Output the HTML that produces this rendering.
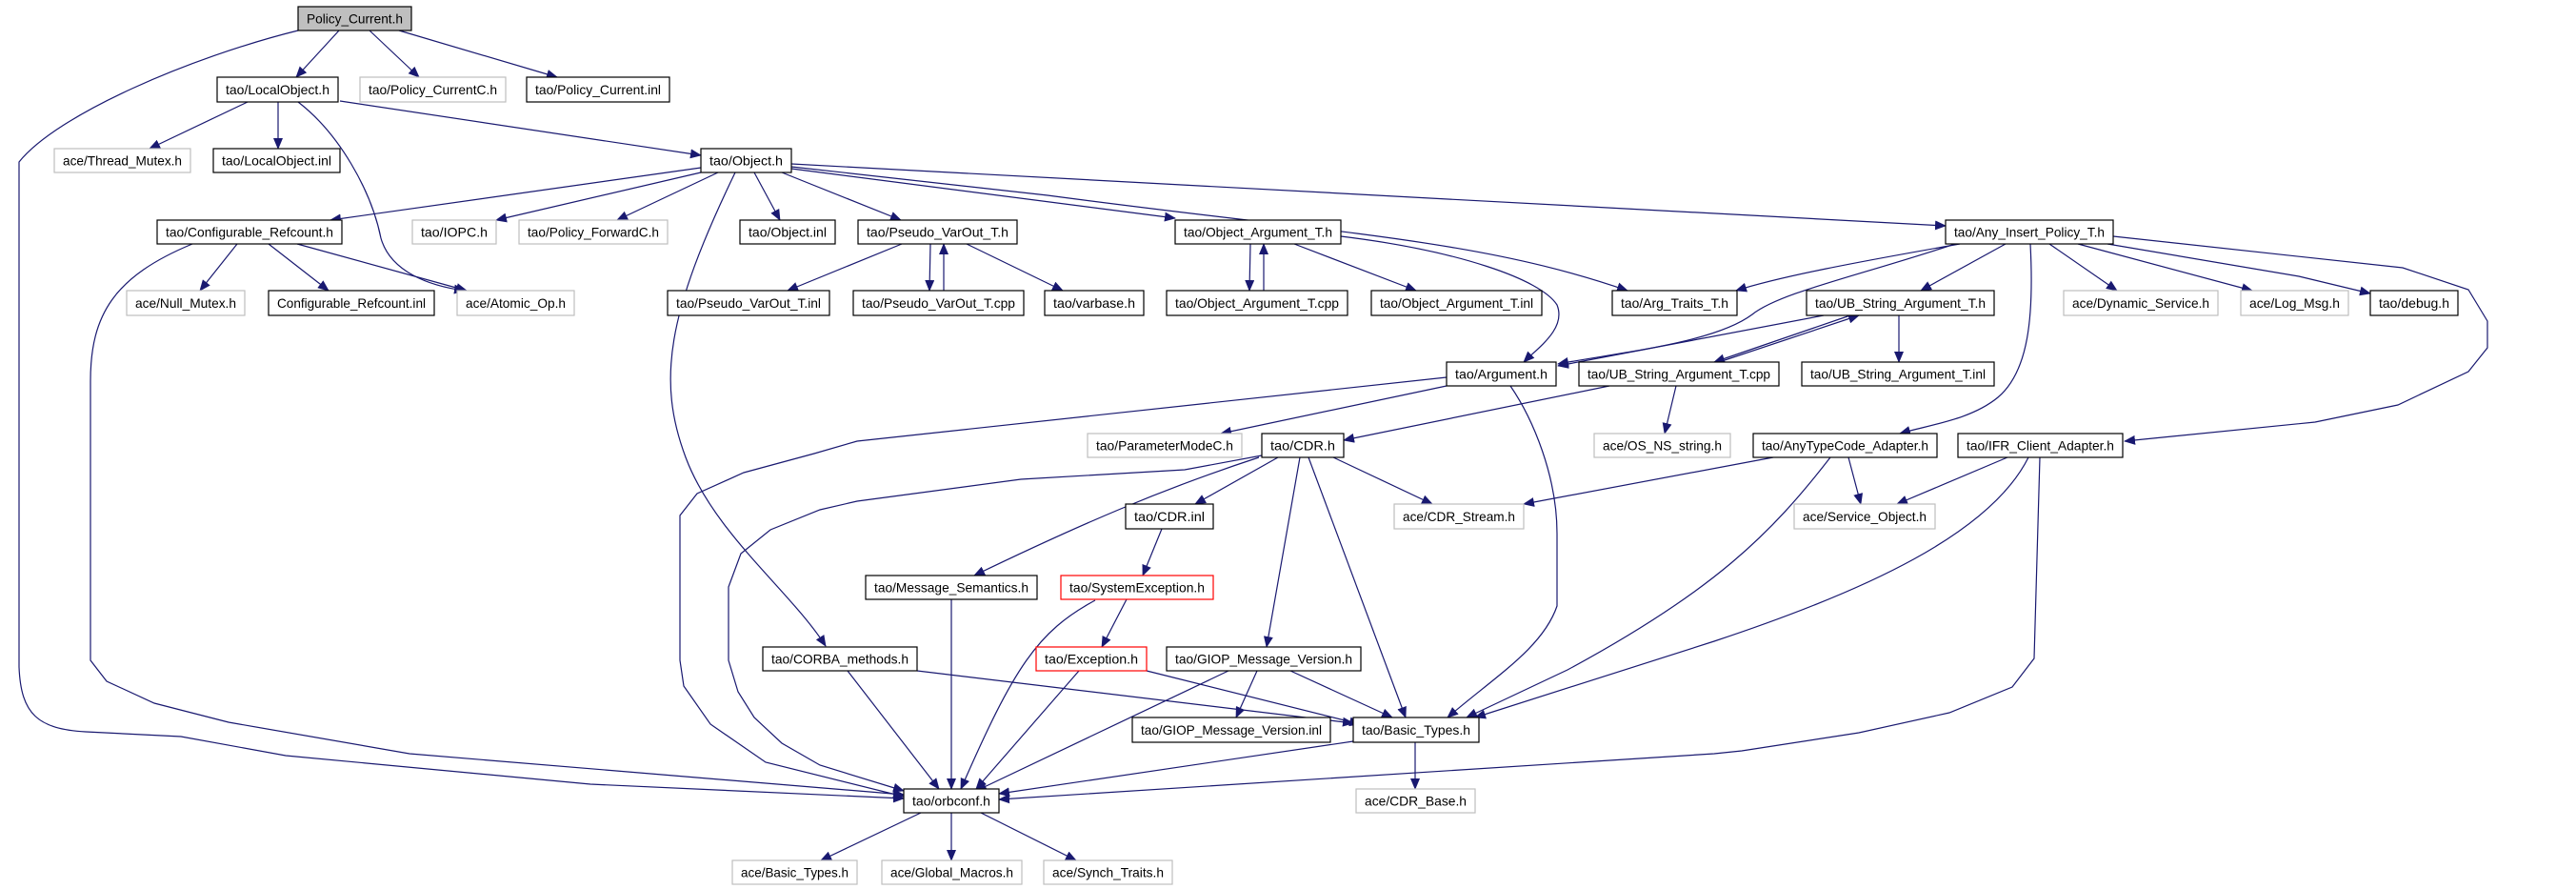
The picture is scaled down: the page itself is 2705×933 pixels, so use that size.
<!DOCTYPE html>
<html><head><meta charset="utf-8"><style>
html,body{margin:0;padding:0;background:#fff;}
svg{display:block;}
text{font-family:"Liberation Sans",sans-serif;font-size:14px;fill:#000;}
</style></head><body>
<svg width="2705" height="933" viewBox="0 0 2705 933" xmlns="http://www.w3.org/2000/svg">
<defs>
<marker id="a" markerUnits="userSpaceOnUse" markerWidth="12" markerHeight="10" refX="11" refY="5" orient="auto">
<path d="M0,0 L12,5 L0,10 z" fill="#191970"/>
</marker>
</defs>
<g fill="none" stroke="#191970" stroke-width="1.2" marker-end="url(#a)">
<!-- Policy_Current -->
<path d="M313,32 C200,60 60,120 20,170 L20,700 C22,750 40,765 90,768 L190,773 L300,793 L620,823 L949,838"/>
<path d="M356,32 L311,81"/>
<path d="M388,32 L440,81"/>
<path d="M419,32 L585,81"/>
<!-- LocalObject -->
<path d="M260,107 L157,156"/>
<path d="M292,107 L292,156"/>
<path d="M313,107 C356,140 390,200 400,250 C410,285 450,300 488,305"/>
<path d="M357,106 L736,163"/>
<!-- Object.h -->
<path d="M736,176 L347,231"/>
<path d="M736,181 L521,231"/>
<path d="M754,181 L648,231"/>
<path d="M792,181 L819,231"/>
<path d="M772,181 C700,330 690,400 720,480 C750,560 830,620 867,678"/>
<path d="M821,181 L946,231"/>
<path d="M831,177 L1234,229"/>
<path d="M831,175 L1100,205 C1400,245 1550,250 1709,305"/>
<path d="M831,172 L2043,237"/>
<!-- Configurable_Refcount -->
<path d="M249,256 L210,305"/>
<path d="M282,256 L345,305"/>
<path d="M312,256 L490,305"/>
<path d="M202,256 C120,290 95,330 95,400 L95,693 L112,715 L162,738 L240,758 L430,791 L949,834"/>
<!-- Pseudo_VarOut_T.h -->
<path d="M947,256 L827,305"/>
<path d="M977,256 L976,305"/>
<path d="M991,305 L991,256"/>
<path d="M1015,256 L1116,305"/>
<!-- Object_Argument_T.h -->
<path d="M1313,256 L1312,305"/>
<path d="M1327,305 L1327,256"/>
<path d="M1359,256 L1487,305"/>
<path d="M1408,248 C1531,263 1618,293 1635,320 C1645,345 1615,365 1600,380"/>
<!-- Any_Insert_Policy_T.h -->
<path d="M2058,256 C1950,275 1870,290 1823,305"/>
<path d="M2053,256 C1950,290 1869,307 1840,330 C1800,360 1700,370 1636,382"/>
<path d="M2106,256 L2017,305"/>
<path d="M2132,256 C2136,333 2130,390 2098,417 C2070,440 2030,445 1995,455"/>
<path d="M2152,256 L2223,305"/>
<path d="M2182,256 L2365,305"/>
<path d="M2213,256 L2414,290 L2489,308"/>
<path d="M2219,248 L2523,281 L2592,304 L2612,337 L2612,365 L2592,390 L2518,425 L2431,443 L2231,463"/>
<!-- UB_String_Argument_T.h -->
<path d="M1994,331 L1994,380"/>
<path d="M1943,331 L1800,380"/>
<path d="M1805,380 L1952,331"/>
<path d="M1915,331 L1636,384"/>
<!-- Argument.h -->
<path d="M1519,396 L900,463 L855,476 L781,496 L732,518 L714,541 L714,693 L718,720 L746,760 L804,800 L949,836"/>
<path d="M1519,405 L1282,455"/>
<path d="M1586,405 C1610,440 1635,500 1635,560 L1635,636 C1620,680 1570,710 1520,753"/>
<!-- UB_String_Argument_T.cpp -->
<path d="M1690,405 L1411,462"/>
<path d="M1760,405 L1748,455"/>
<!-- CDR.h -->
<path d="M1325,478 L1244,493 L1072,503 L900,526 L861,535 L809,556 L778,581 L765,616 L765,693 L775,726 L792,753 L821,780 L861,803 L949,830"/>
<path d="M1322,480 C1221,513 1135,550 1023,604"/>
<path d="M1342,480 L1255,529"/>
<path d="M1365,480 L1330,679"/>
<path d="M1374,480 L1476,753"/>
<path d="M1400,480 L1504,529"/>
<!-- misc -->
<path d="M1220,555 L1200,604"/>
<path d="M999,629 L999,828"/>
<path d="M1183,629 L1157,679"/>
<path d="M1150,630 C1089,663 1065,700 1009,828"/>
<path d="M1133,704 L1025,828"/>
<path d="M1204,704 L1428,760"/>
<path d="M890,704 L986,828"/>
<path d="M963,704 L1421,759"/>
<path d="M1290,704 L1025,830"/>
<path d="M1320,704 L1298,753"/>
<path d="M1355,704 L1462,753"/>
<!-- AnyTypeCode_Adapter -->
<path d="M1862,480 L1600,529"/>
<path d="M1941,480 L1954,529"/>
<path d="M1922,480 C1860,560 1800,620 1646,703 L1540,753"/>
<!-- IFR_Client_Adapter -->
<path d="M2108,480 L1992,529"/>
<path d="M2130,480 C2090,560 1960,620 1800,673 L1549,753"/>
<path d="M2142,480 L2136,691 L2113,721 L2047,748 L1952,769 L1829,788 L1800,791 L1049,839"/>
<!-- Basic_Types / orbconf -->
<path d="M1421,778 L1049,833"/>
<path d="M1486,779 L1486,828"/>
<path d="M967,853 L862,903"/>
<path d="M999,853 L999,903"/>
<path d="M1030,853 L1130,903"/>
</g>
<g stroke-width="1.2">
<!-- nodes: rect + text -->
<rect x="313" y="7" width="119" height="25" fill="#bfbfbf" stroke="#000"/><text x="372.5" y="24.5" text-anchor="middle" textLength="101" lengthAdjust="spacingAndGlyphs">Policy_Current.h</text>
<rect x="228" y="81" width="127" height="26" fill="#fff" stroke="#000"/><text x="291.5" y="99" text-anchor="middle" textLength="109" lengthAdjust="spacingAndGlyphs">tao/LocalObject.h</text>
<rect x="378" y="81" width="153" height="26" fill="#fff" stroke="#bfbfbf"/><text x="454.5" y="99" text-anchor="middle" textLength="135" lengthAdjust="spacingAndGlyphs">tao/Policy_CurrentC.h</text>
<rect x="553" y="81" width="150" height="26" fill="#fff" stroke="#000"/><text x="628" y="99" text-anchor="middle" textLength="132" lengthAdjust="spacingAndGlyphs">tao/Policy_Current.inl</text>

<rect x="57" y="156" width="143" height="25" fill="#fff" stroke="#bfbfbf"/><text x="128.5" y="173.5" text-anchor="middle" textLength="125" lengthAdjust="spacingAndGlyphs">ace/Thread_Mutex.h</text>
<rect x="224" y="156" width="133" height="25" fill="#fff" stroke="#000"/><text x="290.5" y="173.5" text-anchor="middle" textLength="115" lengthAdjust="spacingAndGlyphs">tao/LocalObject.inl</text>
<rect x="736" y="156" width="95" height="25" fill="#fff" stroke="#000"/><text x="783.5" y="173.5" text-anchor="middle" textLength="77" lengthAdjust="spacingAndGlyphs">tao/Object.h</text>

<rect x="165" y="231" width="194" height="25" fill="#fff" stroke="#000"/><text x="262" y="248.5" text-anchor="middle" textLength="176" lengthAdjust="spacingAndGlyphs">tao/Configurable_Refcount.h</text>
<rect x="433" y="231" width="88" height="25" fill="#fff" stroke="#bfbfbf"/><text x="477" y="248.5" text-anchor="middle" textLength="70" lengthAdjust="spacingAndGlyphs">tao/IOPC.h</text>
<rect x="545" y="231" width="156" height="25" fill="#fff" stroke="#bfbfbf"/><text x="623" y="248.5" text-anchor="middle" textLength="138" lengthAdjust="spacingAndGlyphs">tao/Policy_ForwardC.h</text>
<rect x="777" y="231" width="100" height="25" fill="#fff" stroke="#000"/><text x="827" y="248.5" text-anchor="middle" textLength="82" lengthAdjust="spacingAndGlyphs">tao/Object.inl</text>
<rect x="901" y="231" width="167" height="25" fill="#fff" stroke="#000"/><text x="984.5" y="248.5" text-anchor="middle" textLength="149" lengthAdjust="spacingAndGlyphs">tao/Pseudo_VarOut_T.h</text>
<rect x="1234" y="231" width="174" height="25" fill="#fff" stroke="#000"/><text x="1321" y="248.5" text-anchor="middle" textLength="156" lengthAdjust="spacingAndGlyphs">tao/Object_Argument_T.h</text>
<rect x="2043" y="231" width="176" height="25" fill="#fff" stroke="#000"/><text x="2131" y="248.5" text-anchor="middle" textLength="158" lengthAdjust="spacingAndGlyphs">tao/Any_Insert_Policy_T.h</text>

<rect x="133" y="305" width="124" height="26" fill="#fff" stroke="#bfbfbf"/><text x="195" y="323" text-anchor="middle" textLength="106" lengthAdjust="spacingAndGlyphs">ace/Null_Mutex.h</text>
<rect x="282" y="305" width="174" height="26" fill="#fff" stroke="#000"/><text x="369" y="323" text-anchor="middle" textLength="156" lengthAdjust="spacingAndGlyphs">Configurable_Refcount.inl</text>
<rect x="480" y="305" width="123" height="26" fill="#fff" stroke="#bfbfbf"/><text x="541.5" y="323" text-anchor="middle" textLength="105" lengthAdjust="spacingAndGlyphs">ace/Atomic_Op.h</text>
<rect x="701" y="305" width="170" height="26" fill="#fff" stroke="#000"/><text x="786" y="323" text-anchor="middle" textLength="152" lengthAdjust="spacingAndGlyphs">tao/Pseudo_VarOut_T.inl</text>
<rect x="896" y="305" width="179" height="26" fill="#fff" stroke="#000"/><text x="985.5" y="323" text-anchor="middle" textLength="161" lengthAdjust="spacingAndGlyphs">tao/Pseudo_VarOut_T.cpp</text>
<rect x="1097" y="305" width="104" height="26" fill="#fff" stroke="#000"/><text x="1149" y="323" text-anchor="middle" textLength="86" lengthAdjust="spacingAndGlyphs">tao/varbase.h</text>
<rect x="1225" y="305" width="190" height="26" fill="#fff" stroke="#000"/><text x="1320" y="323" text-anchor="middle" textLength="172" lengthAdjust="spacingAndGlyphs">tao/Object_Argument_T.cpp</text>
<rect x="1440" y="305" width="179" height="26" fill="#fff" stroke="#000"/><text x="1529.5" y="323" text-anchor="middle" textLength="161" lengthAdjust="spacingAndGlyphs">tao/Object_Argument_T.inl</text>
<rect x="1693" y="305" width="131" height="26" fill="#fff" stroke="#000"/><text x="1758.5" y="323" text-anchor="middle" textLength="113" lengthAdjust="spacingAndGlyphs">tao/Arg_Traits_T.h</text>
<rect x="1897" y="305" width="197" height="26" fill="#fff" stroke="#000"/><text x="1995.5" y="323" text-anchor="middle" textLength="179" lengthAdjust="spacingAndGlyphs">tao/UB_String_Argument_T.h</text>
<rect x="2167" y="305" width="162" height="26" fill="#fff" stroke="#bfbfbf"/><text x="2248" y="323" text-anchor="middle" textLength="144" lengthAdjust="spacingAndGlyphs">ace/Dynamic_Service.h</text>
<rect x="2353" y="305" width="113" height="26" fill="#fff" stroke="#bfbfbf"/><text x="2409.5" y="323" text-anchor="middle" textLength="95" lengthAdjust="spacingAndGlyphs">ace/Log_Msg.h</text>
<rect x="2489" y="305" width="92" height="26" fill="#fff" stroke="#000"/><text x="2535" y="323" text-anchor="middle" textLength="74" lengthAdjust="spacingAndGlyphs">tao/debug.h</text>

<rect x="1519" y="380" width="115" height="25" fill="#fff" stroke="#000"/><text x="1576.5" y="397.5" text-anchor="middle" textLength="97" lengthAdjust="spacingAndGlyphs">tao/Argument.h</text>
<rect x="1658" y="380" width="210" height="25" fill="#fff" stroke="#000"/><text x="1763" y="397.5" text-anchor="middle" textLength="192" lengthAdjust="spacingAndGlyphs">tao/UB_String_Argument_T.cpp</text>
<rect x="1892" y="380" width="202" height="25" fill="#fff" stroke="#000"/><text x="1993" y="397.5" text-anchor="middle" textLength="184" lengthAdjust="spacingAndGlyphs">tao/UB_String_Argument_T.inl</text>

<rect x="1142" y="455" width="162" height="25" fill="#fff" stroke="#bfbfbf"/><text x="1223" y="472.5" text-anchor="middle" textLength="144" lengthAdjust="spacingAndGlyphs">tao/ParameterModeC.h</text>
<rect x="1325" y="455" width="86" height="25" fill="#fff" stroke="#000"/><text x="1368" y="472.5" text-anchor="middle" textLength="68" lengthAdjust="spacingAndGlyphs">tao/CDR.h</text>
<rect x="1674" y="455" width="143" height="25" fill="#fff" stroke="#bfbfbf"/><text x="1745.5" y="472.5" text-anchor="middle" textLength="125" lengthAdjust="spacingAndGlyphs">ace/OS_NS_string.h</text>
<rect x="1841" y="455" width="193" height="25" fill="#fff" stroke="#000"/><text x="1937.5" y="472.5" text-anchor="middle" textLength="175" lengthAdjust="spacingAndGlyphs">tao/AnyTypeCode_Adapter.h</text>
<rect x="2056" y="455" width="173" height="25" fill="#fff" stroke="#000"/><text x="2142.5" y="472.5" text-anchor="middle" textLength="155" lengthAdjust="spacingAndGlyphs">tao/IFR_Client_Adapter.h</text>

<rect x="1182" y="529" width="92" height="26" fill="#fff" stroke="#000"/><text x="1228" y="547" text-anchor="middle" textLength="74" lengthAdjust="spacingAndGlyphs">tao/CDR.inl</text>
<rect x="1464" y="529" width="136" height="26" fill="#fff" stroke="#bfbfbf"/><text x="1532" y="547" text-anchor="middle" textLength="118" lengthAdjust="spacingAndGlyphs">ace/CDR_Stream.h</text>
<rect x="1884" y="529" width="148" height="26" fill="#fff" stroke="#bfbfbf"/><text x="1958" y="547" text-anchor="middle" textLength="130" lengthAdjust="spacingAndGlyphs">ace/Service_Object.h</text>

<rect x="909" y="604" width="180" height="25" fill="#fff" stroke="#000"/><text x="999" y="621.5" text-anchor="middle" textLength="162" lengthAdjust="spacingAndGlyphs">tao/Message_Semantics.h</text>
<rect x="1114" y="604" width="160" height="25" fill="#fff" stroke="#ff0000"/><text x="1194" y="621.5" text-anchor="middle" textLength="142" lengthAdjust="spacingAndGlyphs">tao/SystemException.h</text>

<rect x="801" y="679" width="162" height="25" fill="#fff" stroke="#000"/><text x="882" y="696.5" text-anchor="middle" textLength="144" lengthAdjust="spacingAndGlyphs">tao/CORBA_methods.h</text>
<rect x="1088" y="679" width="116" height="25" fill="#fff" stroke="#ff0000"/><text x="1146" y="696.5" text-anchor="middle" textLength="98" lengthAdjust="spacingAndGlyphs">tao/Exception.h</text>
<rect x="1225" y="679" width="204" height="25" fill="#fff" stroke="#000"/><text x="1327" y="696.5" text-anchor="middle" textLength="186" lengthAdjust="spacingAndGlyphs">tao/GIOP_Message_Version.h</text>

<rect x="1189" y="753" width="208" height="26" fill="#fff" stroke="#000"/><text x="1293" y="771" text-anchor="middle" textLength="190" lengthAdjust="spacingAndGlyphs">tao/GIOP_Message_Version.inl</text>
<rect x="1421" y="753" width="132" height="26" fill="#fff" stroke="#000"/><text x="1487" y="771" text-anchor="middle" textLength="114" lengthAdjust="spacingAndGlyphs">tao/Basic_Types.h</text>

<rect x="949" y="828" width="100" height="25" fill="#fff" stroke="#000"/><text x="999" y="845.5" text-anchor="middle" textLength="82" lengthAdjust="spacingAndGlyphs">tao/orbconf.h</text>
<rect x="1424" y="828" width="125" height="25" fill="#fff" stroke="#bfbfbf"/><text x="1486.5" y="845.5" text-anchor="middle" textLength="107" lengthAdjust="spacingAndGlyphs">ace/CDR_Base.h</text>

<rect x="769" y="903" width="131" height="25" fill="#fff" stroke="#bfbfbf"/><text x="834.5" y="920.5" text-anchor="middle" textLength="113" lengthAdjust="spacingAndGlyphs">ace/Basic_Types.h</text>
<rect x="926" y="903" width="147" height="25" fill="#fff" stroke="#bfbfbf"/><text x="999.5" y="920.5" text-anchor="middle" textLength="129" lengthAdjust="spacingAndGlyphs">ace/Global_Macros.h</text>
<rect x="1096" y="903" width="135" height="25" fill="#fff" stroke="#bfbfbf"/><text x="1163.5" y="920.5" text-anchor="middle" textLength="117" lengthAdjust="spacingAndGlyphs">ace/Synch_Traits.h</text>
</g>
</svg>
</body></html>
